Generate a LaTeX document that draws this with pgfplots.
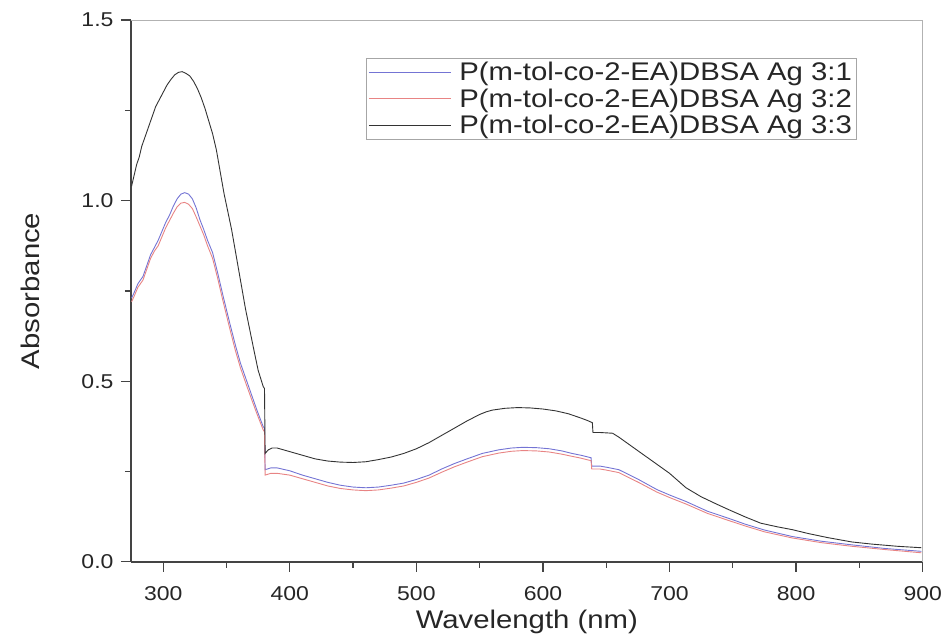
\documentclass[border=0pt]{standalone}
\usepackage{fontspec}
\setmainfont[FakeStretch=1.15]{Liberation Sans}
\usepackage{pgfplots}
\pgfplotsset{compat=1.18}
\usetikzlibrary{calc}

\definecolor{c31}{HTML}{7474D4}
\definecolor{c32}{HTML}{E88484}
\definecolor{c33}{HTML}{333333}
\definecolor{axgray}{HTML}{444444}

\begin{document}
\begin{tikzpicture}
\begin{axis}[name=ax, scale only axis, width=792bp, height=542bp,
  xmin=274.5, xmax=900, ymin=0, ymax=1.5, clip=false,
  axis x line*=bottom, axis y line*=left,
  x axis line style={-}, y axis line style={-},
  axis line style={axgray, line width=1.6bp},
  xtick={300,400,...,900}, minor x tick num=1,
  ytick={0,0.5,1,1.5}, minor y tick num=1,
  major tick length=10bp, minor tick length=6bp,
  every tick/.style={axgray, line width=1.3bp},
  tick label style={font=\fontsize{20bp}{20bp}\selectfont, text=black!85},
  xticklabel style={yshift=-11bp},
  yticklabel style={xshift=-4bp, /pgf/number format/fixed, /pgf/number format/fixed zerofill,
    /pgf/number format/precision=1},
  /pgf/number format/assume math mode=true,
  xlabel={Wavelength (nm)}, ylabel={Absorbance},
  label style={font=\fontsize{25.5bp}{25.5bp}\selectfont, text=black!85},
  xlabel style={at={(axis description cs:0.5,-0.11)}, anchor=center},
  ylabel style={at={(axis description cs:-0.1275,0.5)}, anchor=center},
  legend style={at={(0.297,0.93)}, anchor=north west, draw=gray!70, line width=0.8bp,
    font=\fontsize{25.5bp}{25.5bp}\selectfont, text=black!85, inner sep=2bp, row sep=2.5bp,
    /tikz/every odd column/.append style={column sep=6bp}},
  legend cell align=left,
  legend image code/.code={\draw[#1] (4bp,0bp) -- (86bp,0bp);},
  every axis plot/.append style={line width=0.9bp},
  tick align=outside, xtick align=outside, ytick align=outside]
\draw[gray!60, line width=0.8bp] (rel axis cs:0,1) -- (rel axis cs:1,1) -- (rel axis cs:1,0);
% 3:1
\addplot[c31] coordinates {(275,0.73) (277,0.745) (280,0.77) (284,0.79) (287,0.82) (290,0.85) (293,0.87) (296,0.89) (299,0.915) (302,0.94) (305,0.96) (308,0.985) (311,1.005) (314,1.018) (317,1.022) (320,1.018) (323,1.005) (326,0.98) (329,0.947) (332,0.92) (335,0.89) (339,0.856) (343,0.80) (347,0.74) (352.6,0.66) (357,0.60) (361,0.55) (366,0.50) (370,0.46) (374,0.42) (379,0.374) (380,0.37) (380.5,0.255) (385,0.26) (390,0.26) (400,0.252) (410,0.24) (420,0.23) (430,0.22) (440,0.212) (450,0.207) (460,0.205) (470,0.207) (480,0.212) (490,0.218) (500,0.228) (510,0.24) (520,0.257) (530,0.272) (540,0.285) (552,0.30) (565,0.31) (575,0.315) (584,0.317) (595,0.316) (605,0.313) (615,0.307) (623,0.30) (630,0.295) (638,0.288) (638.5,0.265) (645,0.265) (650,0.262) (660,0.255) (676,0.227) (690,0.2) (700,0.185) (713,0.167) (730,0.14) (747,0.12) (760,0.104) (775,0.088) (797,0.07) (820,0.057) (844,0.047) (870,0.037) (899,0.029)};
\addlegendentry{P(m-tol-co-2-EA)DBSA Ag 3:1}
% 3:2
\addplot[c32] coordinates {(275,0.72) (277,0.735) (280,0.76) (284,0.78) (287,0.81) (290,0.84) (293,0.86) (296,0.875) (299,0.90) (302,0.925) (305,0.945) (308,0.965) (311,0.983) (314,0.993) (317,0.995) (320,0.99) (323,0.978) (326,0.955) (329,0.93) (332,0.905) (335,0.875) (339,0.84) (343,0.785) (347,0.725) (352.6,0.645) (357,0.585) (361,0.537) (366,0.487) (370,0.448) (374,0.41) (379,0.365) (380,0.36) (380.5,0.24) (385,0.245) (390,0.245) (400,0.24) (410,0.23) (420,0.22) (430,0.21) (440,0.203) (450,0.199) (460,0.197) (470,0.199) (480,0.204) (490,0.21) (500,0.22) (510,0.232) (520,0.248) (530,0.263) (540,0.276) (552,0.291) (565,0.301) (575,0.306) (584,0.308) (595,0.307) (605,0.304) (615,0.298) (623,0.292) (630,0.287) (638,0.28) (638.5,0.257) (645,0.257) (650,0.254) (660,0.247) (676,0.219) (690,0.193) (700,0.178) (713,0.16) (730,0.134) (747,0.114) (760,0.099) (775,0.083) (797,0.066) (820,0.053) (844,0.043) (870,0.034) (899,0.025)};
\addlegendentry{P(m-tol-co-2-EA)DBSA Ag 3:2}
% 3:3
\addplot[c33] coordinates {(275,1.04) (277,1.07) (279,1.10) (281,1.12) (283,1.15) (285,1.17) (288,1.20) (291,1.23) (294,1.26) (297,1.28) (300,1.30) (303,1.32) (306,1.335) (309,1.348) (312,1.355) (315,1.357) (318,1.352) (321,1.345) (324,1.33) (327,1.31) (330,1.285) (333,1.255) (336,1.22) (339,1.185) (342,1.14) (345,1.08) (348,1.02) (351,0.97) (354,0.92) (358,0.84) (362,0.76) (365,0.70) (368.5,0.64) (372,0.58) (375,0.53) (379,0.485) (380,0.48) (380.5,0.30) (383,0.31) (386,0.315) (390,0.315) (395,0.31) (400,0.305) (410,0.295) (420,0.285) (430,0.279) (440,0.276) (450,0.275) (460,0.277) (470,0.283) (480,0.29) (490,0.30) (500,0.313) (510,0.33) (520,0.35) (530,0.37) (540,0.39) (550,0.408) (555,0.415) (560,0.42) (570,0.425) (580,0.427) (590,0.426) (600,0.423) (610,0.418) (620,0.41) (630,0.398) (636,0.39) (639,0.385) (639.5,0.358) (645,0.358) (655,0.356) (660,0.345) (670,0.32) (680,0.295) (690,0.27) (700,0.245) (713,0.205) (725,0.18) (737,0.16) (747,0.144) (760,0.124) (772,0.107) (785,0.097) (797,0.089) (810,0.078) (825,0.067) (844,0.055) (860,0.049) (880,0.043) (899,0.039)};
\addlegendentry{P(m-tol-co-2-EA)DBSA Ag 3:3}
\end{axis}
\pgfresetboundingbox
\path ($(ax.south west)+(-131bp,-79bp)$) rectangle ($(ax.north east)+(18.3bp,20bp)$);
\end{tikzpicture}
\end{document}
